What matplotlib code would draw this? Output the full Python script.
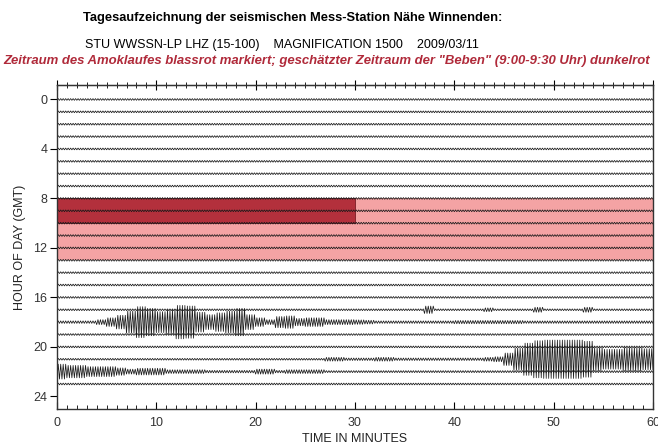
import numpy as np
import matplotlib
matplotlib.use("Agg")
import matplotlib.pyplot as plt
from matplotlib.ticker import MultipleLocator

# one trace per hour, 0..23
hours = list(range(24))
background_amp = 0.07

# half peak-to-peak amplitude (in hour units) per minute
amp_17 = [0.07] * 37 + [0.3] + [0.07] * 5 + [0.15] + [0.07] * 4 + [0.2] + [0.07] * 4 + [0.2] + [0.07] * 6
amp_18 = [0.1, 0.1, 0.1, 0.1, 0.2, 0.35, 0.55, 0.9, 1.25, 1.1,
          0.85, 1.0, 1.35, 1.3, 0.8, 0.6, 0.75, 0.9, 1.1, 0.6,
          0.35, 0.2, 0.45, 0.5, 0.3, 0.35, 0.35, 0.2, 0.2, 0.2,
          0.18, 0.15, 0.1, 0.1, 0.1, 0.1, 0.1, 0.1, 0.1, 0.1,
          0.13, 0.13, 0.13, 0.13, 0.13, 0.13, 0.13, 0.1, 0.1, 0.1,
          0.1, 0.1, 0.1, 0.1, 0.1, 0.1, 0.1, 0.1, 0.1, 0.1]
amp_21 = [0.07] * 27 + [0.15, 0.15, 0.1, 0.1, 0.1, 0.15, 0.15] + [0.1] * 9 + \
         [0.15, 0.2, 0.5, 0.9, 1.3, 1.5, 1.55, 1.55, 1.55, 1.55,
          1.45, 0.95, 0.8, 0.8, 0.95, 0.95, 0.85]
amp_22 = [0.6, 0.5, 0.5, 0.4, 0.4, 0.4, 0.3, 0.2, 0.27, 0.27,
          0.27, 0.15, 0.15, 0.15, 0.15, 0.1, 0.1, 0.1, 0.1, 0.1,
          0.2, 0.2, 0.1, 0.15, 0.15, 0.15, 0.15] + [0.08] * 33
trace_amps = {17: amp_17, 18: amp_18, 21: amp_21, 22: amp_22}

# marked periods (hour of day, minutes)
rampage_hours = (7.95, 13.0)
quake_hours = (7.95, 10.0)
quake_minutes = (0, 30)

pink = "#f4a3a4"
dark_red = "#b3303c"
half_cycles_per_min = 8

fig = plt.figure(figsize=(6.58, 4.48), dpi=100)
ax = fig.add_axes([0.0866, 0.0871, 0.9058, 0.7232])

ax.axhspan(rampage_hours[0], rampage_hours[1], color=pink, lw=0, zorder=0)
ax.fill_between(quake_minutes, quake_hours[0], quake_hours[1], color=dark_red,
                lw=0.6, edgecolor="#7a1c25", zorder=1)

x = np.arange(60 * half_cycles_per_min + 1) / half_cycles_per_min
sign = np.where(np.arange(len(x)) % 2 == 0, 1, -1)
for h in hours:
    amp = np.array(trace_amps.get(h, [background_amp] * 60))
    a = np.append(np.repeat(amp, half_cycles_per_min), amp[-1])
    ax.plot(x, h + sign * a, color="#1a1a1a", lw=0.55, zorder=2)

ax.set_xlim(0, 60)
ax.set_ylim(25.02, -1.17)
ax.set_yticks(range(0, 25, 4))
ax.xaxis.set_major_locator(MultipleLocator(10))
ax.xaxis.set_minor_locator(MultipleLocator(1))
ax.tick_params(axis="x", which="major", direction="in", length=5, labelsize=9,
               labelcolor="#333333", pad=6)
ax.tick_params(axis="x", which="minor", direction="in", length=3)
ax.tick_params(axis="y", direction="out", length=5, labelsize=9, labelcolor="#333333",
               pad=2)

top = ax.secondary_xaxis("top")
top.xaxis.set_major_locator(MultipleLocator(10))
top.xaxis.set_minor_locator(MultipleLocator(1))
top.tick_params(which="major", direction="inout", length=7, labeltop=False)
top.tick_params(which="minor", direction="inout", length=5)

for s in ax.spines.values():
    s.set_linewidth(1.0)
    s.set_color("#333333")

font = "Liberation Sans"
ax.set_xlabel("TIME IN MINUTES", fontsize=9, family=font, color="#222222", labelpad=3)
ax.set_ylabel("HOUR OF DAY (GMT)", fontsize=9, family=font, color="#222222", labelpad=5)
for lab in ax.get_xticklabels() + ax.get_yticklabels():
    lab.set_family(font)

fig.text(0.445, 0.960, "Tagesaufzeichnung der seismischen Mess-Station Nähe Winnenden:",
         ha="center", va="center", fontsize=9.3, fontweight="bold", family=font)
fig.text(0.429, 0.900, "STU WWSSN-LP LHZ (15-100)    MAGNIFICATION 1500    2009/03/11",
         ha="center", va="center", fontsize=9, family=font)
fig.text(0.497, 0.864,
         'Zeitraum des Amoklaufes blassrot markiert; geschätzter Zeitraum der "Beben" (9:00-9:30 Uhr) dunkelrot',
         ha="center", va="center", fontsize=9.45, fontweight="bold", fontstyle="italic",
         color="#b02a3a", family=font)

fig.savefig("out.png", dpi=100)
